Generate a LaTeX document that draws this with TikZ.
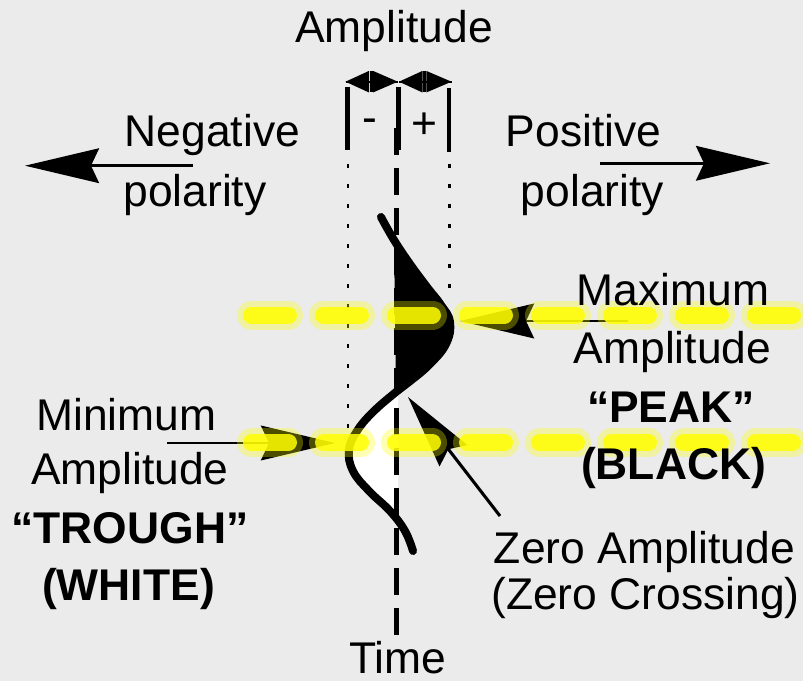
\documentclass[tikz,border=0pt]{standalone}
\usepackage{fontspec}
\setmainfont{Liberation Sans}
\usetikzlibrary{arrows.meta}
\definecolor{bg}{RGB}{235,235,235}
\definecolor{hl}{RGB}{255,255,0}
\begin{document}
\begin{tikzpicture}[x=0.75pt,y=-0.75pt,
  txt/.style={anchor=base,inner sep=0pt,font=\fontsize{33.3pt}{40pt}\selectfont},
  btxt/.style={anchor=base,inner sep=0pt,font=\fontsize{33.3pt}{40pt}\selectfont\bfseries},
  bigarrow/.style={line width=2pt,-{Stealth[length=55.5pt,width=26pt,inset=6pt]}},
  brkline/.style={line width=1.5pt},
  headfill/.style={fill=black},
  vbar/.style={line width=3.4pt},
  midbar/.style={line width=2.6pt},
  dotline/.style={line width=1.6pt,dash pattern=on 3.2pt off 11.8pt},
  axisline/.style={line width=3.6pt,dash pattern=on 20.25pt off 9.75pt},
  wave/.style={line width=6pt,line cap=round,line join=round},
  glow/.style={line width=21.75pt,line cap=round,draw=hl,opacity=0.3,dash pattern=on 27.75pt off 26.25pt},
  hilite/.style={line width=12.75pt,line cap=round,draw=hl,opacity=0.85,dash pattern=on 27.75pt off 26.25pt},
]
\fill[bg] (0,0) rectangle (803,681);
\useasboundingbox (0,0) rectangle (803,681);
\clip (0,0) rectangle (803,681);

% coordinates
\coordinate (bl) at (345.5,81.7);
\coordinate (bm) at (397.8,81.7);
\coordinate (bm2) at (399,81.7);
\coordinate (br) at (451.5,81.7);
\coordinate (blb) at (347.7,150.5);
\coordinate (blt) at (347.7,87);
\coordinate (bmb) at (398.7,150.5);
\coordinate (bmt) at (398.7,87);
\coordinate (brb) at (449,152.5);
\coordinate (brt) at (449,88.5);
\coordinate (dl0) at (347.8,144);
\coordinate (dl1) at (347.8,430);
\coordinate (dr0) at (449.5,144);
\coordinate (dr1) at (449.5,300);
\coordinate (ax0) at (396.5,128);
\coordinate (ax1) at (396.5,635);

% dotted and dashed guide lines
\draw[dotline] (dl0) -- (dl1);
\draw[dotline] (dr0) -- (dr1);

% wavelet fills
\fill[black] plot[smooth,tension=0.7] coordinates {(394,240) (410,264) (427,287) (441,305) (450,322) (446,344) (429,365) (409,382) (396,392)} -- cycle;
\fill[white] plot[smooth,tension=0.7] coordinates {(398,391) (373,412) (357,431) (349,450) (353,471) (369,491) (390,511) (398,518)} -- cycle;

% axis
\draw[axisline] (ax0) -- (ax1);

% bracket
\draw[vbar] (blt) -- (blb);
\draw[vbar] (bmt) -- (bmb);
\draw[vbar] (brt) -- (brb);
\draw[brkline] (bl) -- (bm);
\draw[brkline] (bm2) -- (br);
\fill[headfill] (bl) -- ++(23.5,-10.8) -- ++(0,21.6) -- cycle;
\fill[headfill] (bm) -- ++(-24.8,-10.8) -- ++(0,21.6) -- cycle;
\fill[headfill] (bm2) -- ++(23.5,-10.8) -- ++(0,21.6) -- cycle;
\fill[headfill] (br) -- ++(-25.2,-10.8) -- ++(0,21.6) -- cycle;
\coordinate (m1a) at (371.3,70.9);
\coordinate (m1b) at (371.3,92.5);
\coordinate (m2a) at (424.4,70.9);
\coordinate (m2b) at (424.4,92.5);
\draw[midbar] (m1a) -- (m1b);
\draw[midbar] (m2a) -- (m2b);

% wavelet stroke
\draw[wave] plot[smooth,tension=0.7] coordinates {(381,217) (394,240) (410,264) (427,287) (441,305) (450,322) (446,344) (429,365) (409,382) (396,392) (373,412) (357,431) (349,450) (353,471) (369,491) (390,511) (405,531) (413,551)};

% arrows
\coordinate (na0) at (193,165.7);
\coordinate (na1) at (25,165.7);
\coordinate (pa0) at (600,163.3);
\coordinate (pa1) at (770,163.3);
\coordinate (mx0) at (628,321);
\coordinate (mx1) at (460,321);
\coordinate (mn0) at (167,443);
\coordinate (mn1) at (335,443);
\coordinate (zr0) at (500,516);
\coordinate (zr1) at (408,397);
\draw[bigarrow] (na0) -- (na1);
\draw[bigarrow] (pa0) -- (pa1);
\draw[bigarrow] (mx0) -- (mx1);
\draw[bigarrow] (mn0) -- (mn1);
\draw[bigarrow,line width=2.3pt] (zr0) -- (zr1);

% yellow highlight lines
\coordinate (y10) at (251.5,315);
\coordinate (y11) at (840,315);
\coordinate (y20) at (251.5,442.5);
\coordinate (y21) at (840,442.5);
\draw[glow] (y10) -- (y11);
\draw[glow] (y20) -- (y21);
\draw[hilite] (y10) -- (y11);
\draw[hilite] (y20) -- (y21);

% texts
\node[txt] (amp) at (394,43) {Amplitude};
\node[txt] (minus) at (369.5,133) {-};
\node[txt] (plus) at (424.5,139) {+};
\node[txt] (neg) at (212.5,147) {Negative};
\node[txt] (negp) at (195,206) {polarity};
\node[txt] (pos) at (583.5,147) {Positive};
\node[txt] (posp) at (592.5,206) {polarity};
\node[txt] (max1) at (673,305) {Maximum};
\node[txt] (max2) at (672.5,363) {Amplitude};
\node[btxt] (max3) at (671,422) {“PEAK”};
\node[btxt] (max4) at (673.5,479) {(BLACK)};
\node[txt] (min1) at (126.5,430) {Minimum};
\node[txt] (min2) at (130,484) {Amplitude};
\node[btxt] (min3) at (130,543) {“TROUGH”};
\node[btxt] (min4) at (128.5,600) {(WHITE)};
\node[txt] (zero1) at (644.5,563) {Zero Amplitude};
\node[txt] (zero2) at (645.5,609) {(Zero Crossing)};
\node[txt] (time) at (398,673) {Time};
\end{tikzpicture}
\end{document}
